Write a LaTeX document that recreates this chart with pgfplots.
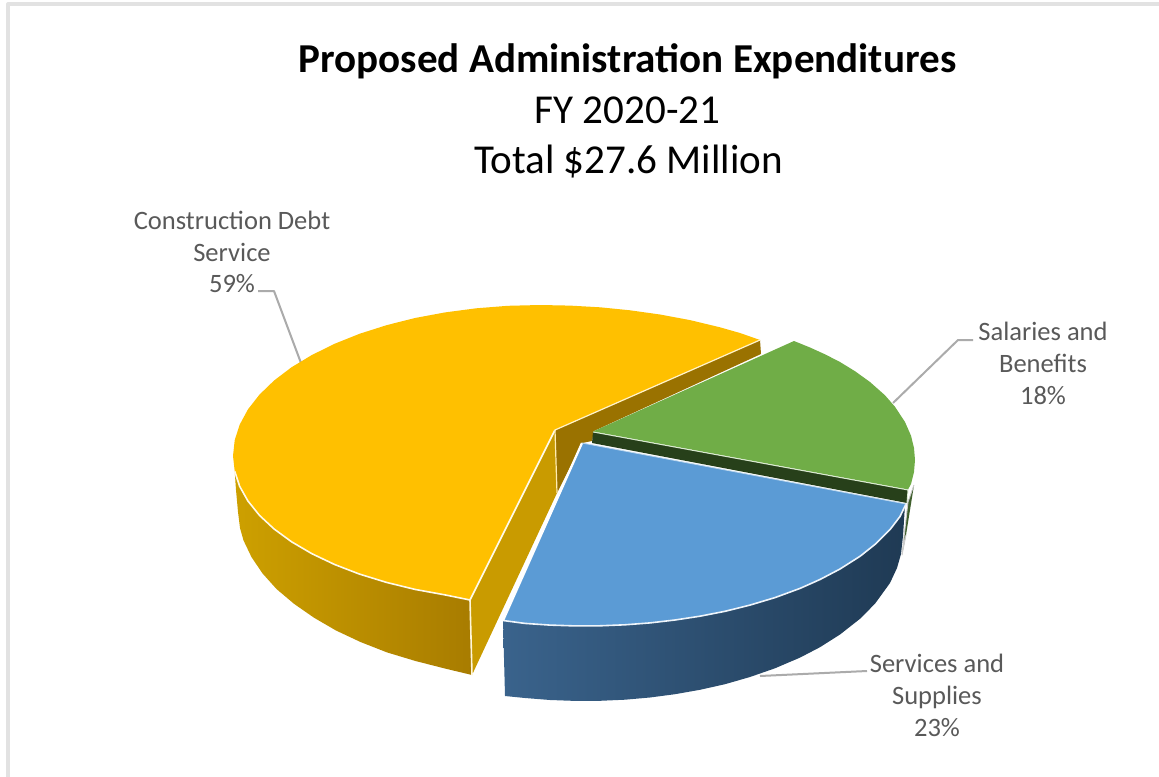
\documentclass[border=0pt]{standalone}
\usepackage{pgfplots}
\pgfplotsset{compat=1.18}
\usepackage{fontspec}
\setmainfont{Carlito}
\definecolor{gold}{HTML}{FFC000}
\definecolor{goldL}{HTML}{CDA000}
\definecolor{goldM}{HTML}{C49500}
\definecolor{goldR}{HTML}{A87C00}
\definecolor{goldCut}{HTML}{C99B00}
\definecolor{goldDark}{HTML}{9A7200}
\definecolor{skyblue}{HTML}{5B9BD5}
\definecolor{navyL}{HTML}{3A638C}
\definecolor{navyM}{HTML}{223F5C}
\definecolor{navyR}{HTML}{1F3A54}
\definecolor{leaf}{HTML}{70AD47}
\definecolor{leafDark}{HTML}{27401A}
\definecolor{leafEdge}{HTML}{3F5F2C}
\definecolor{leader}{HTML}{ABABAB}
\definecolor{labelgray}{HTML}{595959}
\definecolor{frame}{HTML}{E2E2E2}
\newcommand{\titlefont}{\fontsize{30.8pt}{34pt}\selectfont}
\newcommand{\labelfont}{\fontsize{19.9pt}{23pt}\selectfont}
\begin{document}
\begin{tikzpicture}
\begin{axis}[
  scale only axis, width=869.25pt, height=582.75pt,
  xmin=0, xmax=1159, ymin=0, ymax=777, y dir=reverse,
  axis lines=none, clip=true,
  every axis plot/.append style={line join=round}
]
% page extent, so the hidden axis keeps its full size
\path (axis cs:0,0) rectangle (axis cs:1159,777);
% outer frame
\addplot[frame, line width=2.4pt] coordinates {(1159,4) (8,4) (8,777)};

% leader lines
\addplot[leader, line width=1.5pt] coordinates {(258,291) (274,291) (301,363)};
\addplot[leader, line width=1.5pt] coordinates {(973,340) (958,340) (893,403)};
\addplot[leader, line width=1.5pt] coordinates {(867,671) (760,676)};

% Construction Debt Service: rim
\addplot[draw=none, shade, left color=goldL, middle color=goldM, right color=goldR] coordinates {
 (234.7,471.3) (236,490) (238,512) (240,528) (243.5,540.4) (251.5,557.1) (262.5,573.4)
 (276.5,589) (294,603.8) (314,617.7) (336,630.5) (360.5,642) (387,652.4) (415.5,661)
 (445.3,668.6) (472,675) (470,600) (445.1,594.9) (415,589.4) (386.5,582.4) (359.5,574.1)
 (334.6,564.5) (311.9,553.7) (291.6,541.8) (274.1,529) (259.5,515.4) (248,501.1)
 (239.7,486.4)};
% Construction Debt Service: cut faces
\addplot[draw=none, fill=goldCut] coordinates {(555,430) (470,600) (472,675) (557,493)};
\addplot[draw=none, fill=goldDark] coordinates {(555,430) (760,340) (761,354) (594,431) (592,441) (582,443) (557,493)};
% Construction Debt Service: top
\addplot[draw=none, fill=gold] coordinates {
 (555,430) (470,600) (445.1,594.9) (415,589.4) (386.5,582.4) (359.5,574.1) (334.6,564.5)
 (311.9,553.7) (291.6,541.8) (274.1,529) (259.5,515.4) (248,501.1) (239.7,486.4)
 (234.7,471.3) (233,456) (234.7,440.2) (239.7,424.6) (248,409.3) (259.5,394.6)
 (274.1,380.5) (291.6,367.2) (311.9,355) (334.6,343.8) (359.5,333.8) (386.5,325.2)
 (415,318) (445.1,312.4) (476.2,308.3) (507.9,305.8) (540,305) (570,305.6) (600,307.3)
 (630,310.3) (660,314.5) (690,320.1) (720,327.3) (740,333) (760,340)};
% Construction Debt Service: highlights
\addplot[white!92!gold, line width=1.2pt] coordinates {
 (234.7,471.3) (239.7,486.4) (248,501.1) (259.5,515.4) (274.1,529) (291.6,541.8)
 (311.9,553.7) (334.6,564.5) (359.5,574.1) (386.5,582.4) (415,589.4) (445.1,594.9)
 (470,600) (555,430)};
\addplot[white!80!gold, line width=0.9pt] coordinates {(555,430) (760,340)};
\addplot[white!85!gold, line width=1.2pt] coordinates {(470,600) (472,675)};
\addplot[white!70!gold, line width=0.9pt] coordinates {(555,430) (557,493)};

% Salaries and Benefits: rim sliver
\addplot[draw=white!80!black, fill=leafEdge, line width=0.7pt] coordinates {(914,485) (908,502) (902,555) (906,535)};
% Salaries and Benefits: cut face
\addplot[draw=none, fill=leafDark] coordinates {(593,432) (908,490) (907,503) (592,443)};
% Salaries and Benefits: top
\addplot[draw=none, fill=leaf] coordinates {
 (593,431.5) (794,341) (810,347.5) (825,354.3) (840,362) (855,371.2) (870,382) (885,395.3)
 (895,406.8) (905,422) (911,435.7) (914,448) (915,460) (914,472) (911,484) (908,489.5)};
\addplot[white!75!leaf, line width=0.7pt] coordinates {(593,432) (908,490) (907,503)};

% Services and Supplies: rim
\addplot[draw=none, shade, left color=navyL, middle color=navyM, right color=navyR] coordinates {
 (503,620) (505,696) (525,698) (550,700) (575,700.9) (600,700.8) (625,699.7) (650,697.5)
 (675,694.2) (700,689.8) (725,684.2) (750,677) (775,668.3) (800,657.6) (820,647.2)
 (840,634.5) (860,618.8) (875,603.7) (890,583) (897,568) (901,554) (903,536) (905,505)};
% Services and Supplies: top
\addplot[draw=none, fill=skyblue] coordinates {
 (582,443) (906,504) (900,516.5) (890,529.6) (875,544.4) (860,556.3) (840,569) (820,579.5)
 (800,588.4) (775,597.6) (750,605.1) (725,611.3) (700,616.2) (675,620) (650,622.9)
 (625,624.8) (600,625.8) (575,625.9) (550,625.1) (525,623.4) (503,620.5)};
\addplot[white!90!skyblue, line width=1.2pt] coordinates {
 (906,504) (900,516.5) (890,529.6) (875,544.4) (860,556.3) (840,569) (820,579.5)
 (800,588.4) (775,597.6) (750,605.1) (725,611.3) (700,616.2) (675,620) (650,622.9)
 (625,624.8) (600,625.8) (575,625.9) (550,625.1) (525,623.4) (503,620.5)};
\addplot[white, line width=1.7pt] coordinates {(582,443) (503,620.5)};
\addplot[white!60!skyblue, line width=0.6pt] coordinates {(582,443) (906,504)};

% titles
\node[font=\titlefont\bfseries, text=black] at (axis cs:627.5,61) {Proposed Administration Expenditures};
\node[font=\titlefont, text=black] at (axis cs:627.5,110) {FY 2020-21};
\node[font=\titlefont, text=black] at (axis cs:628.5,162) {Total \$27.6 Million};

% data labels
\node[font=\labelfont, text=labelgray] at (axis cs:232,220) {Construction Debt};
\node[font=\labelfont, text=labelgray] at (axis cs:232,252) {Service};
\node[font=\labelfont, text=labelgray] at (axis cs:232,284) {59\%};
\node[font=\labelfont, text=labelgray] at (axis cs:1043,331) {Salaries and};
\node[font=\labelfont, text=labelgray] at (axis cs:1043,363) {Benefits};
\node[font=\labelfont, text=labelgray] at (axis cs:1043,396) {18\%};
\node[font=\labelfont, text=labelgray] at (axis cs:937,663) {Services and};
\node[font=\labelfont, text=labelgray] at (axis cs:937,697) {Supplies};
\node[font=\labelfont, text=labelgray] at (axis cs:937,728) {23\%};
\end{axis}
\end{tikzpicture}
\end{document}
